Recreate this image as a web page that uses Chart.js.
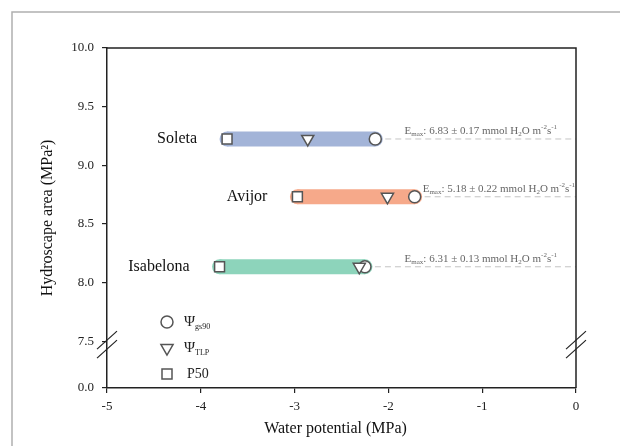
<!DOCTYPE html>
<html>
<head>
<meta charset="utf-8">
<script src="https://cdn.jsdelivr.net/npm/chart.js@4.4.1/dist/chart.umd.min.js"></script>
<style>
  html, body { margin: 0; padding: 0; background: #fff; }
  canvas { display: block; }
</style>
</head>
<body>
<canvas id="grafico" width="620" height="446"></canvas>
<script>
// dados
var cultivares = ['Soleta', 'Avijor', 'Isabelona']
var hydroscape = [9.224, 8.731, 8.134]
var p50 = [-3.72, -2.97, -3.80]
var psiTlp = [-2.86, -2.01, -2.31]
var psiGs90 = [-2.14, -1.72, -2.25]
var emaxMedia = [6.83, 5.18, 6.31]
var emaxErro = [0.17, 0.22, 0.13]
var xTicks = [-5, -4, -3, -2, -1, 0]
var yTicks = [7.5, 8.0, 8.5, 9.0, 9.5, 10.0]
var yZeroLabel = '0.0'

var coresBarra = ['#a3b4d8', '#f6a98a', '#8dd4bb']
var fonte = '"Liberation Serif", "Times New Roman", serif'
var posicaoZero = 7.1   // onde o 0.0 fica depois da quebra do eixo

var conjuntos = []
var simbolo = { pointBackgroundColor: '#fff', pointBorderColor: '#555', pointBorderWidth: 1.5, showLine: false }

conjuntos.push(Object.assign({
  data: cultivares.map(function (c, i) { return { x: psiTlp[i], y: hydroscape[i] } }),
  pointStyle: 'triangle', pointRotation: 180, pointRadius: 7, order: 0
}, simbolo))
conjuntos.push(Object.assign({
  data: cultivares.map(function (c, i) { return { x: psiGs90[i], y: hydroscape[i] } }),
  pointStyle: 'circle', pointRadius: 6, order: 1
}, simbolo))
conjuntos.push(Object.assign({
  data: cultivares.map(function (c, i) { return { x: p50[i], y: hydroscape[i] } }),
  pointStyle: 'rect', pointRadius: 7, order: 1
}, simbolo))

// barras: linha grossa com pontas arredondadas (pontos da mesma cor)
cultivares.forEach(function (c, i) {
  conjuntos.push({
    type: 'line',
    data: [{ x: p50[i], y: hydroscape[i] }, { x: psiGs90[i], y: hydroscape[i] }],
    borderColor: coresBarra[i], borderWidth: 15,
    pointStyle: 'circle', pointRadius: 7.5, pointBorderWidth: 0,
    pointBackgroundColor: coresBarra[i], fill: false, order: 5
  })
  conjuntos.push({
    type: 'line',
    data: [{ x: psiGs90[i], y: hydroscape[i] }, { x: 0, y: hydroscape[i] }],
    borderColor: '#c4c4c4', borderWidth: 1, borderDash: [6, 4],
    pointRadius: 0, fill: false, order: 6
  })
})

function textoRico(ctx, partes, x, y, desenhar) {
  var px = x
  partes.forEach(function (p) {
    var tam = p.k === 'n' ? 11 : 7
    ctx.font = tam + 'px ' + fonte
    var dy = p.k === 'sub' ? 2.5 : (p.k === 'sup' ? -4.5 : 0)
    if (desenhar) ctx.fillText(p.t, px, y + dy)
    px += ctx.measureText(p.t).width
  })
  return px - x
}

function forma(ctx, tipo, x, y) {
  ctx.beginPath()
  if (tipo === 'circle') {
    ctx.arc(x, y, 6, 0, Math.PI * 2)
  } else if (tipo === 'triangle') {
    var r = 7
    ctx.moveTo(x, y + r)
    ctx.lineTo(x - r * Math.sin(Math.PI / 3), y - r / 2)
    ctx.lineTo(x + r * Math.sin(Math.PI / 3), y - r / 2)
    ctx.closePath()
  } else {
    ctx.rect(x - 5, y - 5, 10, 10)
  }
  ctx.fillStyle = '#fff'
  ctx.fill()
  ctx.strokeStyle = '#555'
  ctx.lineWidth = 1.5
  ctx.stroke()
}

var extras = {
  id: 'extras',
  beforeDraw: function (chart) {
    var ctx = chart.ctx
    ctx.save()
    ctx.strokeStyle = '#b0b0b0'
    ctx.lineWidth = 1.5
    ctx.beginPath()
    ctx.moveTo(12, 446)
    ctx.lineTo(12, 12)
    ctx.lineTo(620, 12)
    ctx.stroke()
    ctx.restore()
  },
  afterDraw: function (chart) {
    var ctx = chart.ctx
    var a = chart.chartArea
    var sx = chart.scales.x
    var sy = chart.scales.y
    ctx.save()

    // moldura superior e direita
    ctx.strokeStyle = '#222'
    ctx.lineWidth = 1.5
    ctx.beginPath()
    ctx.moveTo(a.left, a.top)
    ctx.lineTo(a.right, a.top)
    ctx.lineTo(a.right, a.bottom)
    ctx.stroke()

    // quebra do eixo
    var yq = sy.getPixelForValue(7.5)
    ctx.lineWidth = 1.2
    ;[a.left, a.right].forEach(function (xq) {
      ;[yq - 1, yq + 8].forEach(function (yc) {
        ctx.beginPath()
        ctx.moveTo(xq - 10, yc + 9)
        ctx.lineTo(xq + 10, yc - 9)
        ctx.stroke()
      })
    })

    // nomes das cultivares
    ctx.fillStyle = '#111'
    ctx.font = '16px ' + fonte
    ctx.textAlign = 'right'
    ctx.textBaseline = 'middle'
    cultivares.forEach(function (c, i) {
      ctx.fillText(c, sx.getPixelForValue(p50[i]) - 30, sy.getPixelForValue(hydroscape[i]))
    })

    // Emax
    ctx.fillStyle = '#666'
    ctx.textAlign = 'left'
    ctx.textBaseline = 'alphabetic'
    cultivares.forEach(function (c, i) {
      var partes = [
        { t: 'E', k: 'n' }, { t: 'max', k: 'sub' },
        { t: ': ' + emaxMedia[i].toFixed(2) + ' \u00b1 ' + emaxErro[i].toFixed(2) + ' mmol H', k: 'n' },
        { t: '2', k: 'sub' }, { t: 'O m', k: 'n' }, { t: '-2', k: 'sup' },
        { t: 's', k: 'n' }, { t: '-1', k: 'sup' }
      ]
      var y = sy.getPixelForValue(hydroscape[i]) - 5
      var larg = textoRico(ctx, partes, 0, y, false)
      var x0 = Math.max(a.right - 19 - larg, sx.getPixelForValue(psiGs90[i]) + 8)
      textoRico(ctx, partes, x0, y, true)
    })

    // legenda
    var lx = a.left + 60
    var linhas = [a.bottom - 66, a.bottom - 40, a.bottom - 14]
    forma(ctx, 'circle', lx, linhas[0])
    forma(ctx, 'triangle', lx, linhas[1])
    forma(ctx, 'rect', lx, linhas[2])
    ctx.fillStyle = '#222'
    ctx.textBaseline = 'middle'
    ctx.font = '15px ' + fonte
    ctx.fillText('\u03a8', lx + 17, linhas[0])
    ctx.fillText('\u03a8', lx + 17, linhas[1])
    var wPsi = ctx.measureText('\u03a8').width
    ctx.font = '8px ' + fonte
    ctx.fillText('gs90', lx + 17 + wPsi, linhas[0] + 5)
    ctx.fillText('TLP', lx + 17 + wPsi, linhas[1] + 5)
    ctx.font = '14px ' + fonte
    ctx.fillText('P50', lx + 20, linhas[2])

    // títulos dos eixos
    ctx.fillStyle = '#111'
    ctx.font = '16px ' + fonte
    ctx.textAlign = 'center'
    ctx.textBaseline = 'alphabetic'
    ctx.fillText('Water potential (MPa)', (a.left + a.right) / 2 - 6, 433)
    ctx.translate(48, (a.top + a.bottom) / 2)
    ctx.rotate(-Math.PI / 2)
    ctx.textBaseline = 'middle'
    ctx.fillText('Hydroscape area (MPa\u00b2)', 0, 0)

    ctx.restore()
  }
}

var ctx = document.getElementById('grafico')

new Chart(ctx, {
  type: 'scatter',
  data: { datasets: conjuntos },
  options: {
    responsive: false,
    animation: false,
    events: [],
    layout: { padding: { top: 48, right: 44, left: 0, bottom: 0 } },
    plugins: { legend: { display: false }, tooltip: { enabled: false } },
    scales: {
      x: {
        type: 'linear',
        min: xTicks[0],
        max: xTicks[xTicks.length - 1],
        afterBuildTicks: function (s) { s.ticks = xTicks.map(function (v) { return { value: v } }) },
        afterFit: function (s) { s.height = 58 },
        ticks: {
          font: { family: fonte, size: 13 }, color: '#222', padding: 6,
          callback: function (v) { return String(v) }
        },
        grid: { drawOnChartArea: false, drawTicks: true, tickLength: 5, color: '#222', lineWidth: 1.2 },
        border: { display: true, color: '#222', width: 1.5 }
      },
      y: {
        type: 'linear',
        min: posicaoZero,
        max: 10,
        afterBuildTicks: function (s) {
          s.ticks = [posicaoZero].concat(yTicks).map(function (v) { return { value: v } })
        },
        afterFit: function (s) { s.width = 107 },
        ticks: {
          font: { family: fonte, size: 13 }, color: '#222', padding: 8,
          callback: function (v) { return v < 7.4 ? yZeroLabel : v.toFixed(1) }
        },
        grid: { drawOnChartArea: false, drawTicks: true, tickLength: 5, color: '#222', lineWidth: 1.2 },
        border: { display: true, color: '#222', width: 1.5 }
      }
    }
  },
  plugins: [extras]
})
</script>
</body>
</html>
